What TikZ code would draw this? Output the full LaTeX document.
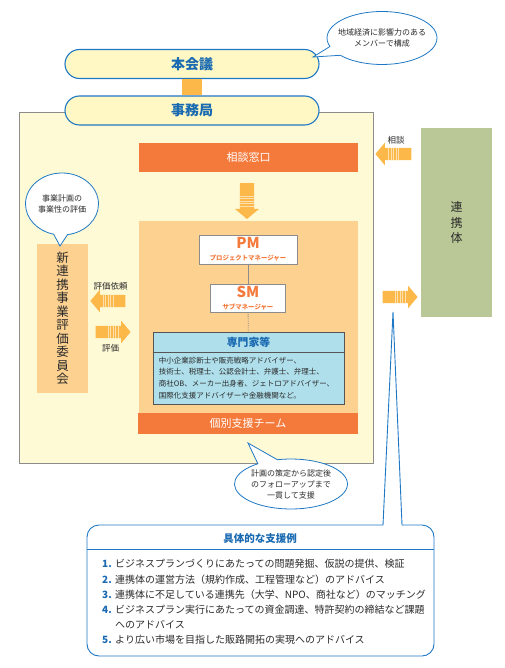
\documentclass[tikz,border=0pt]{standalone}
\usepackage{fontspec}
\setmainfont{Noto Sans CJK JP}
\usetikzlibrary{shapes.arrows,shapes.callouts,positioning}

\definecolor{kblue}{HTML}{1F78C4}
\definecolor{ktext}{HTML}{1A6AB2}
\definecolor{kdark}{HTML}{2B2B2B}
\definecolor{kyellow}{HTML}{FFF8C4}
\definecolor{kcream}{HTML}{FFFAD6}
\definecolor{korange}{HTML}{F47A3B}
\definecolor{kpeach}{HTML}{FDD190}
\definecolor{karrow}{HTML}{FDB84A}
\definecolor{kcyan}{HTML}{AEDFEB}
\definecolor{kgreen}{HTML}{B9C896}
\definecolor{kgray}{HTML}{8C8C8C}

\tikzset{
  pill/.style={draw=kblue, line width=1.1pt, fill=kyellow, rounded corners=14.5pt,
    minimum width=254pt, minimum height=29pt, text=ktext,
    font=\fontsize{14}{16}\selectfont\bfseries},
  bar/.style={fill=korange, text=white, minimum width=219pt, inner sep=0pt,
    font=\fontsize{11}{13}\selectfont},
  rolebox/.style={draw=kgray, fill=white, line width=0.8pt, align=center,
    text=korange, inner sep=0pt, font=\bfseries},
  bubble/.style={ellipse callout, draw=kblue, line width=0.8pt, fill=white,
    align=center, callout pointer arc=22, inner xsep=-12pt, inner ysep=-4pt,
    text=kdark, font=\fontsize{8}{11}\selectfont},
  blockarrow/.style={single arrow, fill=karrow, inner sep=6pt,
    single arrow head extend=5pt, single arrow tip angle=100,
    minimum width=22pt, minimum height=35pt},
  hstripes/.style={path picture={
    \foreach \d in {-5,-2.5,0,2.5,5}
      \draw[white!55!karrow, line width=0.8pt]
        ([xshift=\d pt]path picture bounding box.north)
        -- ([xshift=\d pt]path picture bounding box.south);}},
  vstripes/.style={path picture={
    \foreach \d in {-5,-2.5,0,2.5,5}
      \draw[white!55!karrow, line width=0.8pt]
        ([yshift=\d pt]path picture bounding box.west)
        -- ([yshift=\d pt]path picture bounding box.east);}},
  note/.style={text=kdark, font=\fontsize{8.5}{10}\selectfont},
  vtext/.style={align=center, text=kdark},
}

\begin{document}
\begin{tikzpicture}[x=1pt, y=-1pt]
  \useasboundingbox (0,0) rectangle (505,668);

  % 事务局区域
  \node[draw=kgray, fill=kcream, line width=0.8pt, minimum width=354pt,
    minimum height=351pt] (office) at (196,287.5) {};

  % 本会议, 事务局
  \node[pill] (honkaigi) at (192,64) {本会議};
  \node[pill] (jimu) at (192,110.5) {事務局};
  \draw[karrow, line width=20pt] (honkaigi.south) -- (jimu.north);

  % 相谈窗口
  \node[bar, minimum height=29pt] (madoguchi) at (248.5,157.5) {相談窓口};
  \node[blockarrow, shape border rotate=270, inner sep=7pt, minimum width=24pt,
    minimum height=36pt, vstripes] (down) at (247,198) {};

  % 个别支援团队
  \node[fill=kpeach, minimum width=219pt, minimum height=192pt, inner sep=0pt]
    (team) at (248.5,317) {};
  \node[bar, minimum width=220pt, minimum height=21pt] (teambar) at (248,423.5)
    {個別支援チーム};

  \node[rolebox, minimum width=98pt, minimum height=29pt] (pm) at (248,249.5)
    {\fontsize{15}{13}\selectfont PM\\\fontsize{6.4}{8}\selectfont プロジェクトマネージャー};
  \node[rolebox, minimum width=75pt, minimum height=28pt] (sm) at (248,298)
    {\fontsize{15}{13}\selectfont SM\\\fontsize{6.4}{8}\selectfont サブマネージャー};

  \node[draw=kdark!80, fill=kcyan, line width=0.8pt, minimum width=191pt,
    minimum height=72pt, inner sep=0pt] (expert) at (248.5,368) {};
  \draw[kdark!80, line width=0.8pt] ([yshift=-21pt]expert.north west)
    -- ([yshift=-21pt]expert.north east);
  \node[text=ktext, font=\fontsize{10.8}{12}\selectfont\bfseries] (experthead)
    at ([yshift=-10.5pt]expert.north) {専門家等};
  \node[anchor=north west, align=left, inner sep=0pt, text=kdark,
    font=\fontsize{7.5}{11.8}\selectfont] (expertbody)
    at ([xshift=6pt, yshift=-25pt]expert.north west)
    {中小企業診断士や販売戦略アドバイザー、\\
     技術士、税理士、公認会計士、弁護士、弁理士、\\
     商社OB、メーカー出身者、ジェトロアドバイザー、\\
     国際化支援アドバイザーや金融機関など。};

  \draw[kgray, line width=0.8pt] (pm) -- (sm);
  \draw[kgray, line width=0.8pt, densely dotted] (sm) -- (expert);

  % 新连携事业评价委员会
  \node[fill=kpeach, minimum width=51pt, minimum height=149pt, vtext,
    font=\fontsize{12.5}{13.5}\selectfont] (iinkai) at (62.5,318.5)
    {新\\連\\携\\事\\業\\評\\価\\委\\員\\会};
  \node[blockarrow, shape border rotate=180, hstripes] (irai) at (110.5,301) {};
  \node[note, above=1pt of irai] (iraitext) {評価依頼};
  \node[blockarrow, hstripes] (hyoka) at (110.5,332) {};
  \node[note, below=2pt of hyoka] (hyokatext) {評価};

  % 连携体
  \node[fill=kgreen, minimum width=71pt, minimum height=189pt, vtext,
    font=\fontsize{12}{15.5}\selectfont] (renkei) at (456.5,222.5)
    {連\\携\\体};
  \node[blockarrow, shape border rotate=180, minimum height=36pt, hstripes]
    (soudan) at (396,154) {};
  \node[note, above=0pt of soudan] (soudantext) {相談};
  \node[blockarrow, hstripes] (shien) at (397.5,297) {};
  \coordinate (spike) at (393,312);

  % 具体的支援例
  \draw[kblue, line width=0.9pt, fill=white]
    (383,525) [rounded corners=12pt] -- (87,525) -- (87,656) -- (434,656)
    -- (434,525) [sharp corners] -- (402,525) -- (spike) -- cycle;
  \node[text=ktext, font=\fontsize{10.5}{12}\selectfont\bfseries] (casehead)
    at (260,539) {具体的な支援例};
  \draw[kblue, line width=0.6pt] (87,549) -- (434,549);
  \foreach \y/\n/\t [count=\i] in {
      564/1./ビジネスプランづくりにあたっての問題発掘、仮説の提供、検証,
      579.5/2./連携体の運営方法（規約作成、工程管理など）のアドバイス,
      595/3./連携体に不足している連携先（大学、NPO、商社など）のマッチング,
      610/4./ビジネスプラン実行にあたっての資金調達、特許契約の締結など課題,
      625//へのアドバイス,
      640/5./より広い市場を目指した販路開拓の実現へのアドバイス} {
    \node[anchor=west, inner sep=0pt, text=ktext,
      font=\fontsize{10}{11}\selectfont\bfseries] (no\i) at (102,\y) {\n};
    \node[anchor=west, inner sep=0pt, text=kdark,
      font=\fontsize{10}{11}\selectfont] (item\i) at (115,\y) {\t};
  }

  % 吹き出し
  \node[bubble, minimum width=110pt, minimum height=53pt,
    callout absolute pointer={(313,57)}] (fukidashi1) at (382,38)
    {地域経済に影響力のある\\メンバーで構成};
  \node[bubble, minimum width=73pt, minimum height=62pt,
    callout absolute pointer={(60,246)}] (fukidashi2) at (62,204)
    {事業計画の\\事業性の評価};
  \node[bubble, minimum width=113pt, minimum height=50pt,
    callout absolute pointer={(248,443)}] (fukidashi3) at (291,484)
    {計画の策定から認定後\\のフォローアップまで\\一貫して支援};
\end{tikzpicture}
\end{document}
